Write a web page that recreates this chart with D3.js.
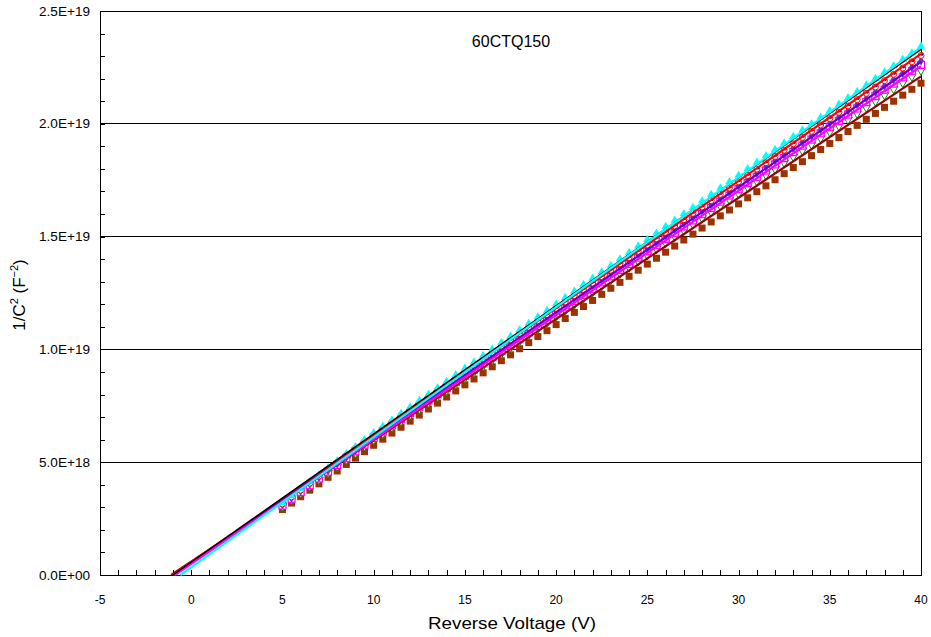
<!DOCTYPE html>
<html><head><meta charset="utf-8">
<script src="https://cdn.jsdelivr.net/npm/d3@7"></script>
<style>body{margin:0;background:#fff}svg{display:block}text{font-family:"Liberation Sans",Arial,sans-serif;fill:#000}</style>
</head><body>
<script>
// Reverse voltage (V)
const voltages = [5,5.5,6,6.5,7,7.5,8,8.5,9,9.5,10,10.5,11,11.5,12,12.5,13,13.5,14,14.5,15,15.5,16,16.5,17,17.5,18,18.5,19,19.5,20,20.5,21,21.5,22,22.5,23,23.5,24,24.5,25,25.5,26,26.5,27,27.5,28,28.5,29,29.5,30,30.5,31,31.5,32,32.5,33,33.5,34,34.5,35,35.5,36,36.5,37,37.5,38,38.5,39,39.5,40];
// 1/C^2 values in units of 1E18 F^-2
const brownSquares = [2.90,3.19,3.47,3.76,4.04,4.33,4.61,4.90,5.18,5.47,5.75,6.02,6.29,6.55,6.82,7.09,7.36,7.62,7.89,8.16,8.43,8.69,8.96,9.23,9.50,9.76,10.03,10.30,10.57,10.83,11.10,11.37,11.64,11.90,12.17,12.44,12.71,12.97,13.24,13.51,13.78,14.04,14.31,14.58,14.85,15.11,15.38,15.65,15.92,16.18,16.45,16.72,16.99,17.25,17.52,17.79,18.06,18.32,18.59,18.86,19.13,19.39,19.66,19.93,20.20,20.46,20.73,21.00,21.27,21.53,21.80];
const greenTriangles = [3.05,3.35,3.64,3.94,4.23,4.53,4.82,5.12,5.41,5.71,6.00,6.27,6.55,6.82,7.09,7.36,7.64,7.91,8.18,8.46,8.73,9.00,9.27,9.55,9.82,10.09,10.36,10.64,10.91,11.18,11.46,11.73,12.00,12.27,12.55,12.82,13.09,13.37,13.64,13.91,14.18,14.46,14.73,15.00,15.28,15.55,15.82,16.09,16.37,16.64,16.91,17.18,17.46,17.73,18.00,18.28,18.55,18.82,19.09,19.37,19.64,19.91,20.19,20.46,20.73,21.00,21.28,21.55,21.82,22.10,22.37];
const magentaSquares = [3.08,3.38,3.68,3.98,4.28,4.58,4.88,5.18,5.48,5.78,6.08,6.36,6.63,6.91,7.18,7.46,7.73,8.01,8.28,8.56,8.84,9.11,9.39,9.66,9.94,10.21,10.49,10.76,11.04,11.31,11.59,11.87,12.14,12.42,12.69,12.97,13.24,13.52,13.79,14.07,14.35,14.62,14.90,15.17,15.45,15.72,16.00,16.27,16.55,16.82,17.10,17.38,17.65,17.93,18.20,18.48,18.75,19.03,19.30,19.58,19.86,20.13,20.41,20.68,20.96,21.23,21.51,21.78,22.06,22.33,22.61];
const purpleDiamonds = [3.12,3.42,3.72,4.03,4.33,4.63,4.93,5.23,5.54,5.84,6.14,6.42,6.70,6.97,7.25,7.53,7.81,8.08,8.36,8.64,8.92,9.19,9.47,9.75,10.03,10.30,10.58,10.86,11.14,11.41,11.69,11.97,12.25,12.52,12.80,13.08,13.36,13.63,13.91,14.19,14.47,14.74,15.02,15.30,15.58,15.85,16.13,16.41,16.69,16.96,17.24,17.52,17.80,18.07,18.35,18.63,18.91,19.18,19.46,19.74,20.02,20.29,20.57,20.85,21.13,21.40,21.68,21.96,22.24,22.51,22.79];
const redCircles = [3.15,3.46,3.76,4.07,4.38,4.69,4.99,5.30,5.61,5.91,6.22,6.50,6.78,7.06,7.34,7.62,7.90,8.18,8.46,8.74,9.02,9.30,9.58,9.86,10.14,10.42,10.70,10.98,11.26,11.54,11.82,12.10,12.38,12.66,12.94,13.23,13.51,13.79,14.07,14.35,14.63,14.91,15.19,15.47,15.75,16.03,16.31,16.59,16.87,17.15,17.43,17.71,17.99,18.27,18.55,18.83,19.11,19.39,19.67,19.95,20.23,20.51,20.79,21.07,21.35,21.63,21.91,22.19,22.47,22.75,23.03];
const cyanTriangles = [3.20,3.51,3.82,4.13,4.44,4.75,5.06,5.37,5.68,5.99,6.30,6.59,6.87,7.16,7.44,7.73,8.01,8.30,8.58,8.87,9.16,9.44,9.73,10.01,10.30,10.58,10.87,11.15,11.44,11.72,12.01,12.30,12.58,12.87,13.15,13.44,13.72,14.01,14.29,14.58,14.87,15.15,15.44,15.72,16.01,16.29,16.58,16.86,17.15,17.43,17.72,18.01,18.29,18.58,18.86,19.15,19.43,19.72,20.00,20.29,20.58,20.86,21.15,21.43,21.72,22.00,22.29,22.57,22.86,23.14,23.43];
// Linear fits: x-intercept (V) and value at 40 V (1E18 F^-2)
const fitNames = ["darkred","red","purple","magenta","black","cyan"];
const fitIntercepts = [-1.1,-1.0,-0.95,-0.9,-1.0,-0.6];
const fitEndValues = [22.1,23.1,22.75,22.55,23.3,23.4];
const xTicks = [-5,0,5,10,15,20,25,30,35,40];
const yTicks = [0,5e18,1e19,1.5e19,2e19,2.5e19];

const W=931,H=637, L=100,R=921,T=11,B=575;
const svg=d3.select("body").append("svg").attr("width",W).attr("height",H);
const x=d3.scaleLinear().domain([-5,40]).range([L,R]);
const y=d3.scaleLinear().domain([0,2.5e19]).range([B,T]);
const S=1e18;

// gridlines
svg.append("g").selectAll("line").data(yTicks.slice(1,-1)).join("line")
  .attr("x1",L).attr("x2",R).attr("y1",d=>y(d)).attr("y2",d=>y(d)).attr("stroke","#000").attr("stroke-width",1).attr("shape-rendering","crispEdges");

const fmt=v=>{ if(v===0) return "0.0E+00"; const e=Math.floor(Math.log10(v)+1e-9); const m=v/Math.pow(10,e); return m.toFixed(1)+"E+"+String(e).padStart(2,"0"); };

// axes (ticks inward)
const gx=svg.append("g").attr("transform",`translate(0,${B})`).call(d3.axisBottom(x).tickValues(d3.range(-5,41,1)).tickSize(-5).tickFormat(""));
const gy=svg.append("g").attr("transform",`translate(${L},0)`).call(d3.axisLeft(y).tickValues(d3.range(0,26,1).map(d=>d*S)).tickSize(-5).tickFormat(""));
[gx,gy].forEach(g=>{g.selectAll("line").attr("stroke","#000").attr("shape-rendering","crispEdges");g.select(".domain").remove();});
svg.append("rect").attr("x",L).attr("y",T).attr("width",R-L).attr("height",B-T).attr("fill","none").attr("stroke","#000").attr("stroke-width",1).attr("shape-rendering","crispEdges");

svg.append("g").selectAll("text").data(xTicks).join("text").attr("x",d=>x(d)).attr("y",B+29).attr("text-anchor","middle").attr("font-size",12).text(d=>d);
svg.append("g").selectAll("text").data(yTicks).join("text").attr("x",L-10).attr("y",d=>y(d)+4.5).attr("text-anchor","end").attr("font-size",12.5)
  .attr("textLength",51).attr("lengthAdjust","spacingAndGlyphs").text(fmt);

// markers
const pts=arr=>arr.map((v,i)=>({v:voltages[i],c:v*S}));
const gm=svg.append("g");
gm.selectAll(".b").data(pts(brownSquares)).join("rect").attr("x",d=>x(d.v)-3.5).attr("y",d=>y(d.c)-3.5).attr("width",7).attr("height",7).attr("fill","#993300");
gm.selectAll(".g").data(pts(greenTriangles)).join("path").attr("d",d3.symbol().type(d3.symbolTriangle).size(32)).attr("transform",d=>`translate(${x(d.v)},${y(d.c)}) rotate(180)`).attr("fill","#fff").attr("stroke","#009900").attr("stroke-width",1);
gm.selectAll(".m").data(pts(magentaSquares)).join("rect").attr("x",d=>x(d.v)-3.5).attr("y",d=>y(d.c)-3.5).attr("width",7).attr("height",7).attr("fill","#fff").attr("stroke","#ff00ff").attr("stroke-width",1.2);
gm.selectAll(".p").data(pts(purpleDiamonds)).join("path").attr("d",d3.symbol().type(d3.symbolDiamond).size(28)).attr("transform",d=>`translate(${x(d.v)},${y(d.c)})`).attr("fill","#6633cc");
gm.selectAll(".r").data(pts(redCircles)).join("circle").attr("cx",d=>x(d.v)).attr("cy",d=>y(d.c)).attr("r",3).attr("fill","#fff").attr("stroke","#ff0000").attr("stroke-width",1);
gm.selectAll(".bl").data(pts(redCircles)).join("circle").attr("cx",d=>x(d.v)+1).attr("cy",d=>y(d.c)-1).attr("r",1.3).attr("fill","#0000cc");
gm.selectAll(".c").data(pts(cyanTriangles)).join("path").attr("d",d3.symbol().type(d3.symbolTriangle).size(30)).attr("transform",d=>`translate(${x(d.v)},${y(d.c)})`).attr("fill","#00ffff");

// fit lines
const colors={darkred:"#990000",red:"#ff0000",purple:"#6600cc",magenta:"#ff00ff",black:"#000000",cyan:"#00ffff"};
const fits=fitNames.map((n,i)=>({n,p:[[fitIntercepts[i],0],[40,fitEndValues[i]*S]]}));
const line=d3.line().x(d=>x(d[0])).y(d=>y(d[1]));
svg.append("g").selectAll("path").data(fits).join("path").attr("d",d=>line(d.p)).attr("fill","none").attr("stroke",d=>colors[d.n]).attr("stroke-width",d=>d.n==="black"?1.5:2.2);

// titles
svg.append("text").attr("x",511).attr("y",47).attr("text-anchor","middle").attr("font-size",16).text("60CTQ150");
svg.append("text").attr("x",512).attr("y",629).attr("text-anchor","middle").attr("font-size",17).attr("textLength",168).attr("lengthAdjust","spacingAndGlyphs").text("Reverse Voltage (V)");
const yl=svg.append("text").attr("transform","translate(25,295) rotate(-90)").attr("text-anchor","middle").attr("font-size",17);
yl.append("tspan").text("1/C");
yl.append("tspan").attr("dy",-7).attr("font-size",11).text("2");
yl.append("tspan").attr("dy",7).text(" (F");
yl.append("tspan").attr("dy",-7).attr("font-size",11).text("−2");
yl.append("tspan").attr("dy",7).text(")");
</script>
</body></html>
